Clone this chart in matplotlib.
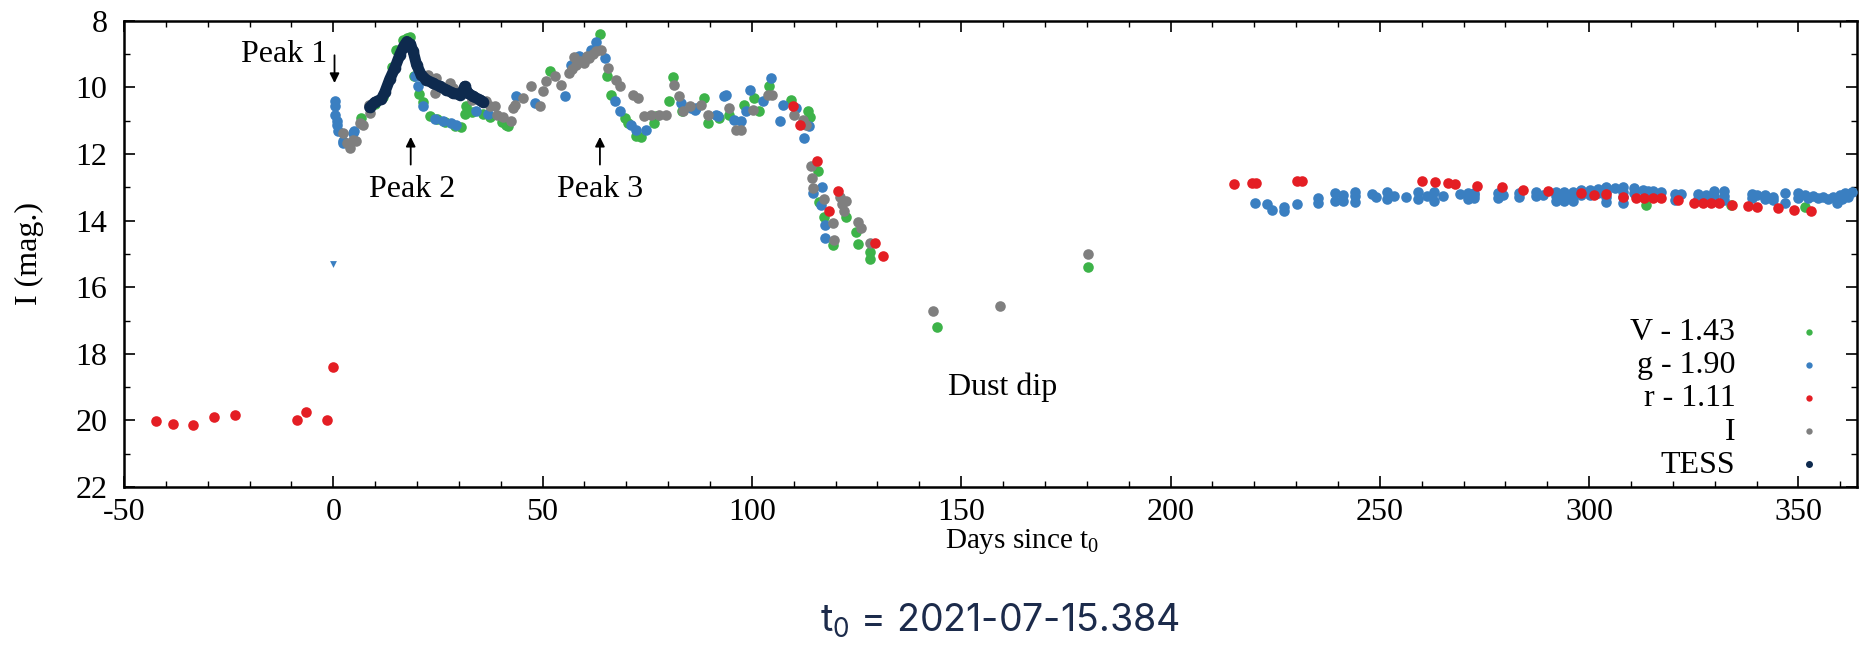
import matplotlib
matplotlib.use("Agg")
import matplotlib.pyplot as plt

plt.rcParams['font.family'] = ['Liberation Serif', 'DejaVu Serif']
plt.rcParams['mathtext.fontset'] = 'custom'
plt.rcParams['mathtext.rm'] = 'Liberation Serif'
plt.rcParams['mathtext.sf'] = 'Inter'
plt.rcParams['axes.unicode_minus'] = False

# V - 1.43 (green)
v_day = [6.7, 10.0, 12.0, 14.0, 15.1, 16.7, 17.6, 18.3, 19.4, 20.6, 21.5, 23.0, 24.7,
         26.8, 29.0, 30.6, 31.4, 31.8, 33.2, 35.8, 37.5, 40.2, 41.3, 41.7, 51.7, 63.6,
         65.4, 66.4, 69.6, 70.4, 72.4, 73.5, 76.5, 77.0, 80.3, 81.1, 83.3, 88.5, 89.5,
         92.2, 94.6, 98.2, 100.4, 101.8, 104.0, 109.4, 113.3, 113.8, 115.7, 116.1, 117.3,
         119.3, 122.5, 124.9, 125.3, 128.3, 128.3, 144.1, 180.2, 313.6, 333.8, 351.5]
v_mag = [10.92, 10.5, 10.3, 9.4, 8.87, 8.57, 8.5, 8.47, 9.67, 10.2, 10.45, 10.85, 10.95,
         11.05, 11.15, 11.2, 10.8, 10.55, 10.75, 10.8, 10.9, 11.05, 11.12, 11.15, 9.52, 8.39,
         9.67, 10.22, 10.92, 11.07, 11.47, 11.5, 11.07, 10.87, 10.42, 9.7, 10.72, 10.32, 11.07,
         10.92, 10.82, 10.52, 10.32, 10.72, 9.97, 10.37, 10.72, 10.9, 12.52, 13.45, 13.88,
         14.73, 13.88, 14.33, 14.71, 14.95, 15.15, 17.2, 15.4, 13.53, 13.53, 13.6]

# g - 1.90 (blue)
g_day = [0.4, 0.5, 0.4, 0.8, 0.8, 1.2, 2.3, 2.4, 4.7, 5.0, 19.5, 20.3, 21.4, 24.2, 26.2,
         28.2, 29.4, 34.2, 37.0, 43.7, 48.1, 55.4, 56.8, 58.8, 61.6, 62.8, 64.8, 67.2,
         68.4, 71.2, 72.2, 74.6, 83.1, 85.5, 86.3, 86.7, 91.5, 91.9, 93.4, 93.7, 95.8,
         97.4, 98.6, 99.6, 102.7, 104.6, 106.6, 107.4, 110.5, 112.4, 113.7, 114.5, 116.7,
         116.5, 117.5, 117.5,
         220.2, 223.1, 224.3, 227.1, 227.1, 230.3, 235.2, 235.2, 239.3, 239.3, 241.1, 241.1,
         244.0, 244.0, 244.0, 248.2, 249.0, 251.8, 251.8, 253.3, 256.2, 259.0, 259.0, 261.2,
         263.0, 263.0, 265.0, 269.2, 271.0, 271.0, 272.6, 272.6, 272.6, 278.2, 278.2, 279.3,
         283.3, 283.3, 287.3, 287.3, 288.9, 292.1, 292.1, 292.1, 294.1, 294.1, 294.1, 296.1,
         296.1, 296.1, 298.1, 298.1, 300.1, 300.1, 302.1, 302.1, 304.1, 304.1, 304.1, 304.1,
         306.1, 308.1, 308.1, 308.1, 308.1, 310.8, 310.8, 312.8, 314.0, 315.2, 317.2, 320.6,
         320.6, 322.0, 326.0, 326.0, 328.0, 329.8, 329.8, 332.2, 332.2, 332.2, 338.8, 338.8,
         340.0, 342.0, 342.0, 344.0, 344.0, 346.7, 346.7, 349.9, 349.9, 351.5, 352.3, 353.5,
         354.7, 355.9, 357.1, 358.3, 359.1, 359.9, 360.3, 361.1, 361.9, 362.7]
g_mag = [10.42, 10.57, 10.82, 11.0, 11.12, 11.32, 11.62, 11.67, 11.37, 11.32, 9.67, 9.95,
         10.55, 10.95, 11.0, 11.08, 11.12, 10.72, 10.8, 10.27, 10.47, 10.27, 9.32, 9.07,
         8.87, 8.62, 9.12, 10.42, 10.72, 11.12, 11.27, 11.27, 10.47, 10.62, 10.67, 10.62,
         10.82, 10.87, 10.27, 10.22, 10.97, 11.02, 10.72, 10.07, 10.42, 9.72, 11.0, 10.52,
         10.62, 11.52, 11.17, 13.17, 13.0, 13.52, 14.13, 14.51,
         13.46, 13.51, 13.68, 13.6, 13.72, 13.51, 13.33, 13.46, 13.17, 13.42, 13.22, 13.4,
         13.13, 13.27, 13.45, 13.2, 13.28, 13.13, 13.35, 13.25, 13.28, 13.13, 13.36, 13.25,
         13.13, 13.41, 13.25, 13.2, 13.16, 13.36, 13.17, 13.33, 13.23, 13.17, 13.33, 13.23,
         13.16, 13.28, 13.13, 13.26, 13.23, 13.13, 13.26, 13.41, 13.13, 13.26, 13.41, 13.13,
         13.26, 13.41, 13.08, 13.23, 13.08, 13.23, 13.06, 13.18, 12.98, 13.13, 13.28, 13.43,
         13.03, 12.98, 13.13, 13.28, 13.48, 13.01, 13.16, 13.08, 13.1, 13.1, 13.13, 13.2,
         13.38, 13.19, 13.2, 13.36, 13.23, 13.1, 13.26, 13.1, 13.26, 13.38, 13.2, 13.33,
         13.23, 13.23, 13.36, 13.28, 13.38, 13.18, 13.48, 13.18, 13.33, 13.23, 13.33, 13.26,
         13.33, 13.28, 13.36, 13.3, 13.48, 13.23, 13.36, 13.18, 13.28, 13.13]
g_limit_day = [0.0]
g_limit_mag = [15.3]

# r - 1.11 (red)
r_day = [-42.4, -38.4, -33.5, -28.5, -23.5, -8.6, -6.6, -1.5, 0.0,
         109.7, 111.6, 115.5, 118.5, 120.5, 129.5, 131.4,
         215.2, 219.4, 220.3, 230.3, 231.3, 260.0, 263.1, 266.2, 268.0, 273.2, 279.2,
         284.1, 290.1, 298.1, 301.1, 304.1, 308.1, 311.1, 313.1, 315.2, 317.1, 321.2,
         325.0, 327.2, 329.0, 331.0, 334.0, 338.0, 340.0, 345.0, 349.0, 353.1]
r_mag = [20.01, 20.11, 20.14, 19.89, 19.84, 19.98, 19.76, 19.98, 18.38,
         10.57, 11.12, 12.2, 13.71, 13.1, 14.66, 15.05,
         12.9, 12.87, 12.87, 12.8, 12.8, 12.82, 12.83, 12.87, 12.9, 12.95, 13.0,
         13.07, 13.11, 13.18, 13.23, 13.2, 13.28, 13.31, 13.33, 13.33, 13.33, 13.38,
         13.48, 13.48, 13.48, 13.48, 13.53, 13.56, 13.58, 13.63, 13.68, 13.7]

# I (grey)
i_day = [2.35, 3.4, 3.9, 4.7, 5.5, 6.4, 7.1, 8.5, 8.7, 22.6, 24.6, 24.2, 27.9, 28.6, 31.1,
         33.2, 36.4, 37.4, 38.6, 39.0, 40.5, 42.5, 42.9, 43.3, 45.3, 47.3, 49.3, 50.1, 50.9,
         52.9, 54.5, 56.4, 57.0, 57.5, 58.0, 59.0, 60.0, 60.5, 61.2, 62.0, 62.8, 64.0, 65.6,
         67.6, 68.4, 71.6, 72.8, 74.3, 75.9, 77.9, 79.5, 81.5, 82.7, 83.5, 85.1, 87.9, 89.5,
         94.6, 96.2, 97.4, 100.2, 103.8, 104.8, 110.1, 112.1, 113.0, 114.1, 114.4, 114.5,
         117.3, 119.3, 119.7, 121.0, 121.5, 122.0, 122.5, 125.3, 126.1, 128.2,
         143.3, 159.3, 180.2]
i_mag = [11.37, 11.67, 11.82, 11.57, 11.62, 11.07, 11.12, 10.52, 10.77, 9.62, 9.72, 10.17,
         9.87, 10.02, 10.07, 10.37, 10.42, 10.57, 10.57, 10.82, 10.9, 11.0, 10.62, 10.52,
         10.32, 9.97, 10.57, 10.12, 9.82, 9.67, 9.92, 9.57, 9.45, 9.1, 9.32, 9.2, 9.27, 9.05,
         9.12, 9.0, 8.92, 8.87, 9.42, 9.77, 9.97, 10.22, 10.32, 10.87, 10.82, 10.82, 10.82,
         9.92, 10.27, 10.72, 10.57, 10.52, 10.82, 10.62, 11.27, 11.27, 10.67, 10.22, 10.22,
         10.82, 10.97, 11.12, 12.37, 12.72, 13.02, 13.35, 14.08, 14.58, 13.3, 13.5, 13.7,
         13.4, 14.05, 14.23, 14.66, 16.71, 16.56, 15.0]

# TESS (navy)
tess_day = [8.7, 9.9, 11.5, 12.3, 13.5, 14.7, 15.9, 16.8, 17.6, 18.4, 19.1, 19.9, 21.0,
            22.2, 23.8, 25.4, 27.0, 28.6, 30.2, 31.0, 31.4, 32.2, 33.4, 35.0, 35.8]
tess_mag = [10.6, 10.45, 10.35, 10.15, 9.75, 9.42, 9.02, 8.77, 8.62, 8.7, 8.92, 9.32, 9.62,
            9.77, 9.87, 9.97, 10.07, 10.17, 10.22, 10.1, 9.97, 10.17, 10.27, 10.37, 10.44]

c_v = '#3db349'
c_g = '#3a7fc1'
c_r = '#e41e24'
c_i = '#7f7f7f'
c_tess = '#0e2a4e'

fig, ax = plt.subplots(figsize=(18.61, 6.52), dpi=100)
fig.subplots_adjust(left=0.0666, right=0.9979, top=0.968, bottom=0.253)

s = 58
ax.scatter(v_day, v_mag, s=s, color=c_v, lw=0, label='V - 1.43', zorder=2)
ax.scatter(g_day, g_mag, s=s, color=c_g, lw=0, label='g - 1.90', zorder=3)
ax.scatter(g_limit_day, g_limit_mag, s=24, marker='v', color=c_g, lw=0, zorder=3)
ax.scatter(i_day, i_mag, s=s, color=c_i, lw=0, label='I', zorder=4)
ax.scatter(r_day, r_mag, s=s, color=c_r, lw=0, label='r - 1.11', zorder=5)
ax.plot(tess_day, tess_mag, color=c_tess, lw=8, solid_capstyle='round', zorder=6)
ax.scatter(tess_day, tess_mag, s=70, color=c_tess, lw=0, label='TESS', zorder=6)

ax.set_xlim(-50, 364)
ax.set_ylim(22, 8)
ax.set_xticks(range(-50, 351, 50))
ax.set_yticks(range(8, 23, 2))
ax.set_xticks(range(-50, 361, 10), minor=True)
ax.set_yticks(range(8, 23, 1), minor=True)
ax.tick_params(which='both', direction='in', top=True, right=True, labelsize=23)
ax.tick_params(which='major', length=8, width=1.2)
ax.tick_params(which='minor', length=4, width=1)
ax.tick_params(axis='x', pad=8)
ax.tick_params(axis='y', pad=12)
for sp in ax.spines.values():
    sp.set_linewidth(1.8)

ax.set_xlabel(r'Days since t$_{\mathrm{0}}$', fontsize=21)
ax.xaxis.set_label_coords(0.518, -0.085)
ax.set_ylabel('I (mag.)', fontsize=23)
ax.yaxis.set_label_coords(-0.046, 0.5)

arr = dict(arrowstyle='-|>', color='black', lw=1.3, mutation_scale=14)
ax.annotate('', xy=(0.3, 9.95), xytext=(0.3, 8.95), arrowprops=arr)
ax.text(-1.5, 9.0, 'Peak 1', fontsize=23, ha='right', va='center')
ax.annotate('', xy=(18.5, 11.4), xytext=(18.5, 12.4), arrowprops=arr)
ax.text(18.8, 13.07, 'Peak 2', fontsize=23, ha='center', va='center')
ax.annotate('', xy=(63.7, 11.4), xytext=(63.7, 12.4), arrowprops=arr)
ax.text(63.7, 13.07, 'Peak 3', fontsize=23, ha='center', va='center')
ax.text(160, 19.0, 'Dust dip', fontsize=23, ha='center', va='center')

handles, labels = ax.get_legend_handles_labels()
order = ['V - 1.43', 'g - 1.90', 'r - 1.11', 'I', 'TESS']
hl = dict(zip(labels, handles))
leg = ax.legend([hl[k] for k in order], order, loc='lower right', bbox_to_anchor=(0.998, -0.012),
                frameon=False, markerfirst=False, fontsize=23, markerscale=0.6,
                handletextpad=1.3, handlelength=2, labelspacing=0.12, borderaxespad=0)

fig.text(0.537, 0.048, r't$_{\mathsf{0}}$ = 2021-07-15.384', fontsize=27, family='Inter',
         color='#1c2b4b', ha='center', va='center')

fig.savefig('out.png', dpi=100)
